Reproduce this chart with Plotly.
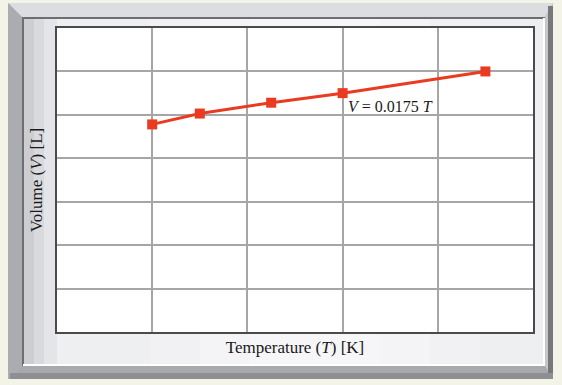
import plotly.graph_objects as go

# Data (axes are unlabeled, grid units)
temperature = [1.0, 1.5, 2.25, 3.0, 4.5]
volume = [4.78, 5.03, 5.28, 5.5, 6.0]
x_title = "Temperature (<i>T</i>) [K]"
y_title = "Volume (<i>V</i>) [L]"
equation = "<i>V</i> = 0.0175 <i>T</i>"

W, H = 562, 385
L, R, T, B = 57, 29, 28, 53
PW, PH = W - L - R, H - T - B


def px(x):
    return (x - L) / PW


def py(y):
    return (H - B - y) / PH


def poly(points, fill):
    d = "M " + " L ".join(f"{px(a):.5f},{py(b):.5f}" for a, b in points) + " Z"
    return dict(type="path", xref="paper", yref="paper", path=d,
                fillcolor=fill, line=dict(width=0), layer="below")


def rect(x0, y0, x1, y1, fill, line=None, opacity=1):
    return dict(type="rect", xref="paper", yref="paper",
                x0=px(x0), x1=px(x1), y0=py(y1), y1=py(y0),
                fillcolor=fill, opacity=opacity,
                line=line or dict(width=0), layer="below")


def seg(x0, y0, x1, y1, color, width):
    return dict(type="line", xref="paper", yref="paper",
                x0=px(x0), x1=px(x1), y0=py(y0), y1=py(y1),
                line=dict(color=color, width=width), layer="below")


shapes = [
    rect(8, 3, 553, 379, "#b9babe"),
    poly([(8, 3), (553, 3), (545, 17), (22, 17)], "#dcdde0"),
    poly([(8, 3), (22, 17), (22, 366), (8, 379)], "#abacb0"),
    poly([(553, 3), (553, 379), (545, 366), (545, 17)], "#c6c7cb"),
    poly([(8, 379), (553, 379), (545, 366), (22, 366)], "#a8a9ad"),
    rect(548, 6, 553, 379, "#77787c"),
    rect(10, 373, 553, 379, "#8e8f93"),
    rect(22, 17, 545, 366, "#eeeff1"),
    rect(24, 19, 34, 364, "#cdced2"),
    rect(34, 19, 44, 364, "#d9dadd"),
    rect(44, 19, 57, 364, "#e4e5e8"),
    rect(150, 19, 480, 364, "#f1f1f3"),
    rect(200, 19, 430, 364, "#f4f4f6"),
    rect(250, 19, 380, 364, "#f6f6f8"),
    seg(23, 366, 23, 18, "#6d6e72", 2),
    seg(22, 18, 545, 18, "#6d6e72", 2),
    seg(544, 18, 544, 366, "#ffffff", 2),
    seg(23, 365, 545, 365, "#ffffff", 2),
    rect(57, 28, 533, 332, "#ffffff"),
]

fig = go.Figure()
fig.add_trace(go.Scatter(
    x=temperature, y=volume, mode="lines+markers",
    line=dict(color="#ea3a1f", width=3),
    marker=dict(symbol="square", size=10, color="#ea3a1f"),
    hoverinfo="skip", showlegend=False,
))

fig.add_annotation(
    x=temperature[3], y=volume[3], xref="x", yref="y",
    text=equation, showarrow=False, xanchor="left", yanchor="top",
    xshift=3, yshift=-3,
    font=dict(family="Liberation Serif", size=16, color="#1a1a1a"),
)

axis_common = dict(
    showgrid=True, gridcolor="#a6a6a6", gridwidth=1.5,
    showline=True, linecolor="#4a4a4a", linewidth=1.5, mirror=True,
    zeroline=False, showticklabels=False, ticks="",
)

title_font = dict(family="Liberation Serif", size=17, color="#1a1a1a")
fig.update_xaxes(range=[0, 5], dtick=1, tick0=0,
                 title=dict(text=x_title, standoff=8, font=title_font),
                 **axis_common)
fig.update_yaxes(range=[0, 7], dtick=1, tick0=0,
                 title=dict(text=y_title, standoff=8, font=title_font),
                 **axis_common)

fig.update_layout(
    width=W, height=H,
    margin=dict(l=L, r=R, t=T, b=B, pad=0),
    paper_bgcolor="#f4f3e8", plot_bgcolor="#ffffff",
    shapes=shapes,
)

fig.write_html("out.html")
